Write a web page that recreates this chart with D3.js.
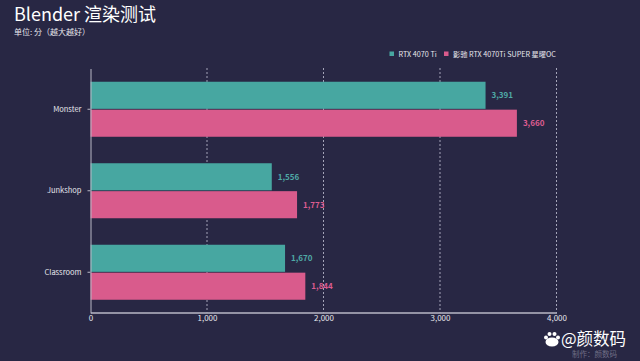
<!DOCTYPE html>
<html>
<head>
<meta charset="utf-8">
<script src="https://cdn.jsdelivr.net/npm/d3@7"></script>
<style>
html, body { margin: 0; padding: 0; background: #282744; }
text { font-family: "Noto Sans CJK SC", "Noto Sans", sans-serif; }
</style>
</head>
<body>
<div id="chart"></div>
<script>
var categories = ["Monster", "Junkshop", "Classroom"];
var seriesNames = ["RTX 4070 Ti", "影驰 RTX 4070Ti SUPER 星曜OC"];
var rtx4070Ti = [3391, 1556, 1670];
var super4070Ti = [3660, 1773, 1844];
var xTicks = [0, 1000, 2000, 3000, 4000];
var colors = ["#47a7a1", "#d95b8c"];
var labelColors = ["#4fa9a6", "#dc5c90"];

var svgWidth = 640;
var svgHeight = 361;
var margin = { top: 68, right: 83.5, bottom: 48.5, left: 90.5 };
var chartWidth = svgWidth - margin.left - margin.right;
var chartHeight = svgHeight - margin.top - margin.bottom;

var svg = d3.select("#chart")
	.append("svg")
	.attr("width", svgWidth)
	.attr("height", svgHeight)
	.style("display", "block");

svg.append("rect")
	.attr("width", svgWidth)
	.attr("height", svgHeight)
	.attr("fill", "#282744");

var chartGroup = svg.append("g")
	.attr("transform", `translate(${margin.left}, ${margin.top})`);

var xScale = d3.scaleLinear().domain([0, 4000]).range([0, chartWidth]);
var yScale = d3.scaleBand().domain(categories).range([0.5, chartHeight + 0.5]).paddingInner(0.325).paddingOuter(0.1625);
var subScale = d3.scaleBand().domain([0, 1]).range([0, yScale.bandwidth()]).paddingInner(0.03);

// dashed grid, drawn first so the bars sit on top
chartGroup.selectAll(".grid")
	.data(xTicks.slice(1))
	.enter()
	.append("line")
	.attr("class", "grid")
	.attr("x1", d => xScale(d))
	.attr("x2", d => xScale(d))
	.attr("y1", 0)
	.attr("y2", chartHeight)
	.attr("stroke", "#a4a4b8")
	.attr("stroke-width", 1)
	.attr("stroke-dasharray", "2,2");

[rtx4070Ti, super4070Ti].forEach((values, s) => {
	chartGroup.selectAll(".bar" + s)
		.data(values)
		.enter()
		.append("rect")
		.attr("class", "bar" + s)
		.attr("x", 0)
		.attr("y", (d, i) => yScale(categories[i]) + subScale(s))
		.attr("width", d => xScale(d))
		.attr("height", subScale.bandwidth())
		.attr("fill", colors[s]);

	chartGroup.selectAll(".value" + s)
		.data(values)
		.enter()
		.append("text")
		.attr("class", "value" + s)
		.attr("x", d => xScale(d) + 6)
		.attr("y", (d, i) => yScale(categories[i]) + subScale(s) + subScale.bandwidth() / 2)
		.attr("dy", "0.35em")
		.attr("font-size", "8px")
		.style("font-weight", "bold")
		.attr("fill", labelColors[s])
		.text(d => d3.format(",")(d));
});

var xAxis = d3.axisBottom(xScale).tickValues(xTicks).tickFormat(d3.format(",")).tickSize(0).tickPadding(3);
var yAxis = d3.axisLeft(yScale).tickSize(3).tickSizeOuter(0).tickPadding(6);

var xAxisGroup = chartGroup.append("g")
	.attr("transform", `translate(0, ${chartHeight})`)
	.call(xAxis);
xAxisGroup.select(".domain").attr("stroke", "#b9b9c6").attr("stroke-width", 1.5);
xAxisGroup.selectAll("text").attr("fill", "#e6e6ec").attr("font-size", "8px");

var yAxisGroup = chartGroup.append("g").call(yAxis);
yAxisGroup.select(".domain").attr("stroke", "#b9b9c6").attr("stroke-width", 1);
yAxisGroup.selectAll("line").attr("stroke", "#b9b9c6");
yAxisGroup.selectAll("text").attr("fill", "#e6e6ec").attr("font-size", "7.5px");

// title
svg.append("text")
	.attr("x", 14)
	.attr("y", 21)
	.attr("font-size", "18px")
	.attr("fill", "#ffffff")
	.text("Blender 渲染测试");

svg.append("text")
	.attr("x", 14)
	.attr("y", 35)
	.attr("font-size", "8px")
	.attr("fill", "#e6e6ec")
	.text("单位: 分（越大越好）");

// legend
var legendX = [389.5, 444];
seriesNames.forEach((name, s) => {
	svg.append("rect")
		.attr("x", legendX[s])
		.attr("y", 51.5)
		.attr("width", 4.5)
		.attr("height", 4.5)
		.attr("fill", colors[s]);
	svg.append("text")
		.attr("x", legendX[s] + 9)
		.attr("y", 54)
		.attr("dy", "0.35em")
		.attr("font-size", "7.2px")
		.attr("fill", "#e6e6ec")
		.text(name);
});

// watermark
svg.append("text")
	.attr("x", 572)
	.attr("y", 357)
	.attr("font-size", "7.5px")
	.attr("fill", "#6f6e86")
	.text("制作：颜数码");

var paw = svg.append("g").attr("fill", "#ffffff");
[[546, 337.5, 2], [549.5, 334, 2], [554.5, 334, 2], [558, 337.5, 2]].forEach(p => {
	paw.append("circle").attr("cx", p[0]).attr("cy", p[1]).attr("r", p[2]);
});
paw.append("ellipse").attr("cx", 552).attr("cy", 342).attr("rx", 6.5).attr("ry", 4.5);

svg.append("text")
	.attr("x", 561)
	.attr("y", 344.5)
	.attr("font-size", "16.5px")
	.attr("fill", "#ffffff")
	.text("@颜数码");
</script>
</body>
</html>
